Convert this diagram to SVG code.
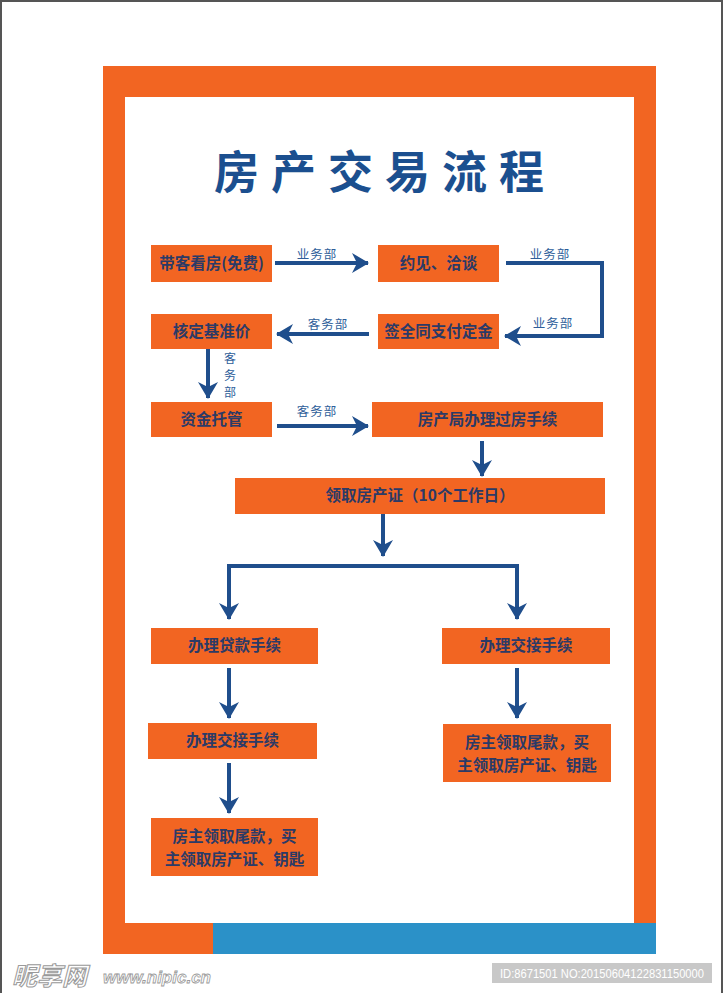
<svg xmlns="http://www.w3.org/2000/svg" width="723" height="993" viewBox="0 0 723 993">
<defs>
<style>
.node rect{fill:#F26522;}
.node text{font-family:"Noto Sans CJK SC","Liberation Sans",sans-serif;font-weight:bold;font-size:15.5px;fill:#2B3A67;text-anchor:middle;}
.conn path,.conn line{stroke:#1F4E8C;stroke-width:4;fill:none;}
.lbl{font-family:"Noto Sans CJK SC","Liberation Sans",sans-serif;font-size:12.5px;fill:#2E5E9A;text-anchor:middle;letter-spacing:1px;}
.vl{font-family:"Noto Sans CJK SC","Liberation Sans",sans-serif;font-size:12px;fill:#2E5E9A;text-anchor:middle;}
</style>
<marker id="ah" viewBox="0 0 20 20" refX="16" refY="10" markerWidth="20" markerHeight="20" markerUnits="userSpaceOnUse" orient="auto">
<path d="M0,0 L17,10 L0,20 L5,10 Z" fill="#1F4E8C"/>
</marker>
</defs>
<rect x="0" y="0" width="723" height="993" fill="#ffffff"/>
<path d="M1,993 V1 H722 V993" fill="none" stroke="#555555" stroke-width="2"/>
<g id="frame">
<rect x="103" y="66" width="553" height="888" fill="#F26522"/>
<rect x="125" y="97" width="509" height="826" fill="#ffffff"/>
<rect x="213" y="923" width="443" height="31" fill="#2B91C8"/>
</g>
<text x="385" y="189" font-family="Noto Sans CJK SC,sans-serif" font-weight="bold" font-size="45" letter-spacing="12" fill="#1B4F8F" text-anchor="middle">房产交易流程</text>
<g id="n1" class="node"><rect x="151" y="245" width="121" height="37"/><text x="211.5" y="269">带客看房(免费)</text></g>
<g id="n2" class="node"><rect x="378" y="245" width="121" height="37"/><text x="438.5" y="269">约见、洽谈</text></g>
<g id="n3" class="node"><rect x="378" y="314" width="121" height="35"/><text x="438.5" y="337">签全同支付定金</text></g>
<g id="n4" class="node"><rect x="151" y="314" width="121" height="35"/><text x="211.5" y="337">核定基准价</text></g>
<g id="n5" class="node"><rect x="151" y="402" width="121" height="35"/><text x="211.5" y="425">资金托管</text></g>
<g id="n6" class="node"><rect x="372" y="402" width="231" height="35"/><text x="487.5" y="425">房产局办理过房手续</text></g>
<g id="n7" class="node"><rect x="235" y="478" width="370" height="36"/><text x="420" y="501">领取房产证（10个工作日）</text></g>
<g id="n8" class="node"><rect x="151" y="628" width="167" height="36"/><text x="234.5" y="651">办理贷款手续</text></g>
<g id="n9" class="node"><rect x="442" y="628" width="168" height="36"/><text x="526" y="651">办理交接手续</text></g>
<g id="n10" class="node"><rect x="148" y="723" width="169" height="36"/><text x="232.5" y="746">办理交接手续</text></g>
<g id="n11" class="node"><rect x="443" y="724" width="168" height="58"/><text x="527" y="748">房主领取尾款，买</text><text x="527" y="771">主领取房产证、钥匙</text></g>
<g id="n12" class="node"><rect x="151" y="818" width="167" height="58"/><text x="234.5" y="842">房主领取尾款，买</text><text x="234.5" y="865">主领取房产证、钥匙</text></g>
<g id="connectors" class="conn">
<line x1="275" y1="263" x2="368" y2="263" marker-end="url(#ah)"/>
<path d="M506,263 H602 V336 H505" marker-end="url(#ah)"/>
<line x1="369" y1="334" x2="277" y2="334" marker-end="url(#ah)"/>
<line x1="208" y1="349" x2="208" y2="398" marker-end="url(#ah)"/>
<line x1="277" y1="426" x2="368" y2="426" marker-end="url(#ah)"/>
<line x1="482" y1="441" x2="482" y2="476" marker-end="url(#ah)"/>
<line x1="383" y1="514" x2="383" y2="556" marker-end="url(#ah)"/>
<path d="M229,619 V566 H517 V619"/>
<line x1="229" y1="590" x2="229" y2="619" marker-end="url(#ah)"/>
<line x1="517" y1="590" x2="517" y2="619" marker-end="url(#ah)"/>
<line x1="229" y1="668" x2="229" y2="718" marker-end="url(#ah)"/>
<line x1="517" y1="668" x2="517" y2="718" marker-end="url(#ah)"/>
<line x1="229" y1="763" x2="229" y2="813" marker-end="url(#ah)"/>
</g>
<g id="labels">
<text class="lbl" x="317" y="259">业务部</text>
<text class="lbl" x="550" y="259">业务部</text>
<text class="lbl" x="553" y="328">业务部</text>
<text class="lbl" x="328" y="329">客务部</text>
<text class="vl" x="230" y="363">客</text>
<text class="vl" x="230" y="380">务</text>
<text class="vl" x="230" y="397">部</text>
<text class="lbl" x="317" y="416">客务部</text>
</g>
<g id="watermark">
<text x="12" y="985" font-family="Noto Sans CJK SC,sans-serif" font-weight="bold" font-style="italic" font-size="25" fill="#ffffff" stroke="#9a9a9a" stroke-width="1">昵享网</text>
<text x="103" y="983" font-family="Liberation Sans,sans-serif" font-weight="bold" font-style="italic" font-size="17" fill="#ffffff" stroke="#9a9a9a" stroke-width="0.8">www.nipic.cn</text>
<rect x="492" y="963" width="220" height="20" fill="#c8c8c8"/>
<text x="500" y="977.5" font-family="Liberation Sans,sans-serif" font-size="12" fill="#ffffff" textLength="204" lengthAdjust="spacingAndGlyphs">ID:8671501 NO:20150604122831150000</text>
</g>
</svg>
